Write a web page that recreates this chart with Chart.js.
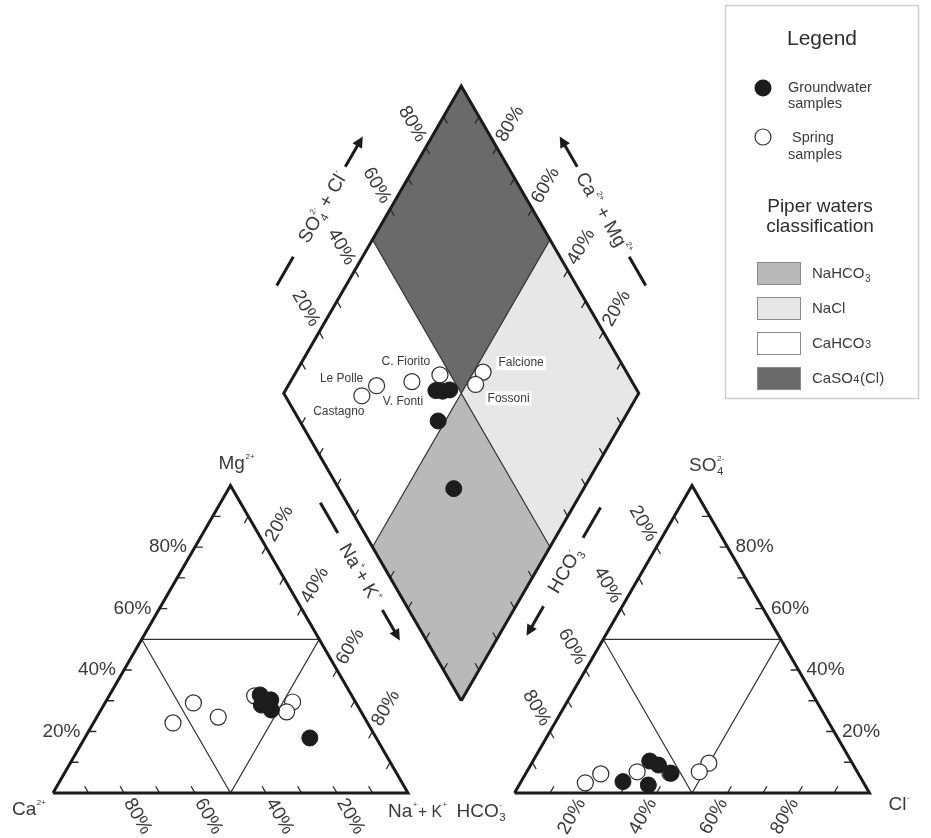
<!DOCTYPE html>
<html>
<head>
<meta charset="utf-8">
<title>Piper diagram</title>
<script src="https://cdn.jsdelivr.net/npm/chart.js@4.4.1/dist/chart.umd.min.js"></script>
<style>
  html, body { margin: 0; padding: 0; background: #ffffff; }
  canvas { display: block; }
</style>
</head>
<body>
<canvas id="piper" width="931" height="838"></canvas>
<script>
// ---- sample chemistry, % of meq/L ----
const springNames = ['Castagno', 'Le Polle', 'C. Fiorito', 'V. Fonti', 'Falcione', 'Fossoni'];
const springCa   = [54.8, 45.8, 41.1, 27.4, 17.7, 21.0];
const springMg   = [22.8, 29.3, 24.7, 31.6, 29.6, 26.4];
const springNaK  = [22.4, 24.9, 34.2, 41.0, 52.7, 52.6];
const springHCO3 = [78.4, 72.6, 62.0, 53.0, 40.4, 44.5];
const springSO4  = [3.3, 6.2, 6.9, 6.5, 9.7, 6.9];
const springCl   = [18.3, 21.2, 31.1, 40.5, 49.9, 48.6];

const gwCa   = [25.7, 23.5, 27.0, 25.0, 18.7];
const gwMg   = [31.9, 30.3, 28.6, 27.0, 17.9];
const gwNaK  = [42.4, 46.2, 44.4, 48.0, 63.4];
const gwHCO3 = [56.7, 52.7, 54.9, 61.0, 67.6];
const gwSO4  = [10.4, 6.4, 9.1, 2.6, 3.7];
const gwCl   = [32.9, 40.9, 36.0, 36.4, 28.7];

// ---- graduations ----
const tickSteps  = [10, 20, 30, 40, 60, 70, 80, 90];
const labelSteps = [20, 40, 60, 80];
const labelText  = ['20%', '40%', '60%', '80%'];

// ---- water-type fields of the diamond; corners as (Na+K %, HCO3 %) ----
const classNames  = ['NaHCO3', 'NaCl', 'CaHCO3', 'CaSO4(Cl)'];
const classNaK    = [[50, 50, 100, 100], [50, 50, 100, 100], [0, 0, 50, 50], [0, 0, 50, 50]];
const classHCO3   = [[50, 100, 100, 50], [0, 50, 50, 0], [50, 100, 100, 50], [0, 50, 50, 0]];
const classColors = ['#b9b9b9', '#e7e7e7', '#ffffff', '#6a6a6a'];

// ---- geometry (data units: triangle side = 100) ----
const H = Math.sqrt(3) / 2;
const GAP = 30;               // space between the two triangles
const DX = 100 + GAP / 2;     // x of the diamond's lower vertex
const TICK = 2.2;             // tick length
const UNIT = 3.55;            // pixels per data unit
const X_MIN = -53 / UNIT, X_MAX = (931 - 53) / UNIT;
const Y_MIN = -(838 - 793) / UNIT, Y_MAX = 793 / UNIT;

function cationPos(ca, mg, nak) {
  const s = ca + mg + nak;
  return { x: 100 * (nak + mg / 2) / s, y: 100 * mg * H / s };
}
function anionPos(hco3, so4, cl) {
  const s = hco3 + so4 + cl;
  return { x: 100 + GAP + 100 * (cl + so4 / 2) / s, y: 100 * so4 * H / s };
}
function diamondPos(nak, hco3) {
  const c = 1 - nak / 100, s = 1 - hco3 / 100;
  return { x: DX + 50 * (s - c), y: GAP * H + 100 * H * (s + c) };
}
const BREAK = () => ({ x: null, y: null });
function closed(pts) { return pts.concat([pts[0]]); }
function ticks(origins, dir) {
  const out = [];
  origins.forEach(o => out.push(o, { x: o.x + dir.x * TICK, y: o.y + dir.y * TICK }, BREAK()));
  return out;
}

// sample positions
const springCat = springCa.map((v, i) => cationPos(v, springMg[i], springNaK[i]));
const springAn  = springHCO3.map((v, i) => anionPos(v, springSO4[i], springCl[i]));
const springDia = springNaK.map((v, i) => {
  const na = 100 * v / (springCa[i] + springMg[i] + v);
  const hc = 100 * springHCO3[i] / (springHCO3[i] + springSO4[i] + springCl[i]);
  return diamondPos(na, hc);
});
const gwCat = gwCa.map((v, i) => cationPos(v, gwMg[i], gwNaK[i]));
const gwAn  = gwHCO3.map((v, i) => anionPos(v, gwSO4[i], gwCl[i]));
const gwDia = gwNaK.map((v, i) => {
  const na = 100 * v / (gwCa[i] + gwMg[i] + v);
  const hc = 100 * gwHCO3[i] / (gwHCO3[i] + gwSO4[i] + gwCl[i]);
  return diamondPos(na, hc);
});

// frame outlines
const leftTri  = closed([cationPos(100, 0, 0), cationPos(0, 0, 100), cationPos(0, 100, 0)]);
const rightTri = closed([anionPos(100, 0, 0), anionPos(0, 0, 100), anionPos(0, 100, 0)]);
const diamond  = closed([diamondPos(100, 100), diamondPos(0, 100), diamondPos(0, 0), diamondPos(100, 0)]);
const leftInner  = closed([cationPos(50, 50, 0), cationPos(0, 50, 50), cationPos(50, 0, 50)]);
const rightInner = closed([anionPos(50, 50, 0), anionPos(0, 50, 50), anionPos(50, 0, 50)]);
const diamondCross = [diamondPos(0, 50), diamondPos(100, 50), BREAK(), diamondPos(50, 0), diamondPos(50, 100)];

// tick marks on every edge
const tickData = [].concat(
  ticks(tickSteps.map(m => cationPos(100 - m, m, 0)), { x: 1, y: 0 }),
  ticks(tickSteps.map(k => cationPos(k, 0, 100 - k)), { x: -0.5, y: H }),
  ticks(tickSteps.map(n => cationPos(0, 100 - n, n)), { x: -0.5, y: -H }),
  ticks(tickSteps.map(q => anionPos(0, q, 100 - q)), { x: -1, y: 0 }),
  ticks(tickSteps.map(k => anionPos(100 - k, 0, k)), { x: 0.5, y: H }),
  ticks(tickSteps.map(h => anionPos(h, 100 - h, 0)), { x: 0.5, y: -H }),
  ticks(tickSteps.map(n => diamondPos(n, 100)), { x: 0.5, y: H }),
  ticks(tickSteps.map(h => diamondPos(100, h)), { x: -0.5, y: H }),
  ticks(tickSteps.map(h => diamondPos(0, h)), { x: 0.5, y: -H }),
  ticks(tickSteps.map(n => diamondPos(n, 0)), { x: -0.5, y: -H })
);

const INK = '#1b1b1b';
const TEXT = '#3a3a3a';
const FONT = '"Liberation Sans", Arial, Helvetica, sans-serif';
const font = sz => sz + 'px ' + FONT;

const lineSet = (data, width, order, color) => ({
  data, showLine: true, fill: false, borderColor: color || INK, borderWidth: width,
  pointRadius: 0, pointHoverRadius: 0, tension: 0, spanGaps: false, order,
  borderJoinStyle: 'miter', borderCapStyle: 'butt'
});

const datasets = [];
classNames.forEach((name, i) => {
  const pts = closed(classNaK[i].map((n, j) => diamondPos(n, classHCO3[i][j])));
  datasets.push({
    label: name, data: pts, showLine: true, fill: 'shape',
    backgroundColor: classColors[i], borderColor: 'rgba(0,0,0,0)', borderWidth: 0,
    pointRadius: 0, pointHoverRadius: 0, tension: 0, order: 20
  });
});
datasets.push(lineSet(leftInner, 1.2, 12, '#333'));
datasets.push(lineSet(rightInner, 1.2, 12, '#333'));
datasets.push(lineSet(diamondCross, 1.2, 12, '#333'));
datasets.push(lineSet(tickData, 1.3, 11, '#2a2a2a'));
datasets.push(lineSet(leftTri, 3, 10));
datasets.push(lineSet(rightTri, 3, 10));
datasets.push(lineSet(diamond, 3, 10));

const springStyle = { pointRadius: 8, pointHoverRadius: 8, pointBackgroundColor: '#ffffff',
  pointBorderColor: '#2e2e2e', pointBorderWidth: 1.2, showLine: false, order: 3 };
const gwStyle = { pointRadius: 8, pointHoverRadius: 8, pointBackgroundColor: '#1c1c1c',
  pointBorderColor: '#1c1c1c', pointBorderWidth: 1, showLine: false, order: 1 };
datasets.push(Object.assign({ label: 'Spring samples (cations)', data: springCat }, springStyle));
datasets.push(Object.assign({ label: 'Spring samples (anions)', data: springAn }, springStyle));
datasets.push(Object.assign({ label: 'Spring samples', data: springDia }, springStyle));
datasets.push(Object.assign({ label: 'Groundwater samples (cations)', data: gwCat }, gwStyle));
datasets.push(Object.assign({ label: 'Groundwater samples (anions)', data: gwAn }, gwStyle));
datasets.push(Object.assign({ label: 'Groundwater samples', data: gwDia }, gwStyle));

// ---- text helpers ----
function drawRich(ctx, parts, x, y, size, align) {
  const subK = 0.6, supK = 0.42;
  const segs = parts.map(p => {
    if (p.t !== undefined) { ctx.font = font(size * (p.k || 1)); return { p, w: ctx.measureText(p.t).width }; }
    let w = 0;
    if (p.sub) { ctx.font = font(size * subK); w = Math.max(w, ctx.measureText(p.sub).width); }
    if (p.sup) { ctx.font = font(size * supK); w = Math.max(w, ctx.measureText(p.sup).width); }
    return { p, w: w + size * 0.06 };
  });
  const total = segs.reduce((a, s) => a + s.w, 0);
  let cx = align === 'center' ? x - total / 2 : align === 'right' ? x - total : x;
  ctx.textAlign = 'left';
  ctx.textBaseline = 'alphabetic';
  for (const s of segs) {
    const p = s.p;
    if (p.t !== undefined) { ctx.font = font(size * (p.k || 1)); ctx.fillText(p.t, cx, y); }
    else {
      if (p.sub) { ctx.font = font(size * subK); ctx.fillText(p.sub, cx + size * 0.03, y + size * 0.22); }
      if (p.sup) { ctx.font = font(size * supK); ctx.fillText(p.sup, cx + size * 0.03, y - size * 0.52); }
    }
    cx += s.w;
  }
}

const vertexLabels = [
  { at: () => cationPos(0, 100, 0), dx: -12, dy: -17, parts: [{ t: 'Mg' }, { sup: '2+' }] },
  { at: () => cationPos(100, 0, 0), dx: -41, dy: 22, parts: [{ t: 'Ca' }, { sup: '2+' }] },
  { at: () => cationPos(0, 0, 100), dx: -20, dy: 24, parts: [{ t: 'Na' }, { sup: '+' }, { t: '+ K', k: 0.82 }, { sup: '+' }] },
  { at: () => anionPos(100, 0, 0), dx: -58, dy: 24, parts: [{ t: 'HCO' }, { sub: '3', sup: '-' }] },
  { at: () => anionPos(0, 0, 100), dx: 19, dy: 17, parts: [{ t: 'Cl' }, { sup: '-' }] },
  { at: () => anionPos(0, 100, 0), dx: -3, dy: -15, parts: [{ t: 'SO' }, { sub: '4', sup: '2-' }] }
];

// graduation labels: anchor, outward direction (data units), rotation, alignment
const scaleLabels = [
  { at: v => cationPos(100 - v, v, 0), out: { x: -1, y: 0 }, rot: 0, align: 'right' },
  { at: v => cationPos(v, 0, 100 - v), out: { x: 0.5, y: -H }, rot: 60, align: 'left' },
  { at: v => cationPos(0, 100 - v, v), out: { x: 0.5, y: H }, rot: -60, align: 'left' },
  { at: v => anionPos(0, v, 100 - v), out: { x: 1, y: 0 }, rot: 0, align: 'left' },
  { at: v => anionPos(100 - v, 0, v), out: { x: -0.5, y: -H }, rot: -60, align: 'right' },
  { at: v => anionPos(v, 100 - v, 0), out: { x: -0.5, y: H }, rot: 60, align: 'right' },
  { at: v => diamondPos(0, 100 - v), out: { x: -0.5, y: H }, rot: 60, align: 'right' },
  { at: v => diamondPos(100 - v, 0), out: { x: 0.5, y: H }, rot: -60, align: 'left' }
];

// diamond axis titles: edge (from, to), side, offset, dash / text / arrow positions along the edge
const axisTitles = [
  { from: () => diamondPos(0, 100), to: () => diamondPos(0, 0), sign: 1, p: 60,
    dash: [90, 123], text: 181, arrow: [227, 262], rot: -60,
    parts: [{ t: 'SO' }, { sub: '4', sup: '2-' }, { t: ' + Cl' }, { sup: '-' }] },
  { from: () => diamondPos(100, 0), to: () => diamondPos(0, 0), sign: -1, p: 60,
    dash: [90, 123], text: 173, arrow: [227, 262], rot: 60,
    parts: [{ t: 'Ca' }, { sup: '2+' }, { t: ' + Mg' }, { sup: '2+' }] },
  { from: () => diamondPos(0, 100), to: () => diamondPos(100, 100), sign: -1, p: 23,
    dash: [113, 148], text: 194, arrow: [237, 272], rot: 60,
    parts: [{ t: 'Na' }, { sup: '+' }, { t: '+ K' }, { sup: '+' }] },
  { from: () => diamondPos(100, 0), to: () => diamondPos(100, 100), sign: 1, p: 24,
    dash: [118, 153], text: 190, arrow: [232, 266], rot: -60,
    parts: [{ t: 'HCO' }, { sub: '3', sup: '-' }] }
];

// name tags beside the spring points in the diamond (pixel offsets)
const springTagDX = [-23, -35, -6, -37, 38, 33];
const springTagDY = [16, -7, -20, 27, -9, 14];

const piperDecor = {
  id: 'piperDecor',
  afterDatasetsDraw(chart) {
    const ctx = chart.ctx;
    const sx = chart.scales.x, sy = chart.scales.y;
    const pix = p => ({ x: sx.getPixelForValue(p.x), y: sy.getPixelForValue(p.y) });
    ctx.save();
    ctx.fillStyle = TEXT;

    // graduation labels
    ctx.font = font(19);
    scaleLabels.forEach(ax => {
      labelSteps.forEach((v, i) => {
        const a = pix(ax.at(v));
        const len = Math.hypot(ax.out.x, ax.out.y);
        const ox = ax.out.x / len, oy = -ax.out.y / len;
        ctx.save();
        ctx.translate(a.x + ox * 8, a.y + oy * 8);
        ctx.rotate(ax.rot * Math.PI / 180);
        ctx.textAlign = ax.align;
        ctx.textBaseline = 'middle';
        ctx.fillText(labelText[i], 0, 0);
        ctx.restore();
      });
    });

    // vertex labels
    vertexLabels.forEach(v => {
      const a = pix(v.at());
      drawRich(ctx, v.parts, a.x + v.dx, a.y + v.dy, 19, 'left');
    });

    // diamond axis titles with dashes and arrows
    axisTitles.forEach(t => {
      const S = pix(t.from()), E = pix(t.to());
      const L = Math.hypot(E.x - S.x, E.y - S.y);
      const d = { x: (E.x - S.x) / L, y: (E.y - S.y) / L };
      const n = t.sign > 0 ? { x: d.y, y: -d.x } : { x: -d.y, y: d.x };
      const at = a => ({ x: S.x + d.x * a + n.x * t.p, y: S.y + d.y * a + n.y * t.p });
      ctx.strokeStyle = INK;
      ctx.fillStyle = INK;
      ctx.lineWidth = 3;
      ctx.lineCap = 'butt';
      const d0 = at(t.dash[0]), d1 = at(t.dash[1]);
      ctx.beginPath(); ctx.moveTo(d0.x, d0.y); ctx.lineTo(d1.x, d1.y); ctx.stroke();
      const a0 = at(t.arrow[0]), a1 = at(t.arrow[1]);
      const head = 11, hw = 5.5;
      const base = { x: a1.x - d.x * head, y: a1.y - d.y * head };
      ctx.beginPath(); ctx.moveTo(a0.x, a0.y); ctx.lineTo(base.x + d.x * 2, base.y + d.y * 2); ctx.stroke();
      ctx.beginPath();
      ctx.moveTo(a1.x, a1.y);
      ctx.lineTo(base.x + n.x * hw, base.y + n.y * hw);
      ctx.lineTo(base.x - n.x * hw, base.y - n.y * hw);
      ctx.closePath(); ctx.fill();
      const c = at(t.text);
      ctx.fillStyle = TEXT;
      ctx.save();
      ctx.translate(c.x, c.y);
      ctx.rotate(t.rot * Math.PI / 180);
      drawRich(ctx, t.parts, 0, 19 * 0.35, 19, 'center');
      ctx.restore();
    });

    // spring names in the diamond
    ctx.font = font(12);
    ctx.textAlign = 'center';
    ctx.textBaseline = 'middle';
    springNames.forEach((name, i) => {
      const p = pix(springDia[i]);
      const x = p.x + springTagDX[i], y = p.y + springTagDY[i];
      const w = ctx.measureText(name).width;
      ctx.fillStyle = '#ffffff';
      ctx.fillRect(x - w / 2 - 2, y - 7, w + 4, 14);
      ctx.fillStyle = TEXT;
      ctx.fillText(name, x, y);
    });

    // legend panel
    ctx.strokeStyle = '#cfcfcf';
    ctx.lineWidth = 1.5;
    ctx.strokeRect(725.5, 5.5, 193, 393);
    ctx.fillStyle = '#2e2e2e';
    ctx.textAlign = 'center';
    ctx.textBaseline = 'alphabetic';
    ctx.font = font(21);
    ctx.fillText('Legend', 822, 45);
    ctx.fillStyle = '#1c1c1c';
    ctx.beginPath(); ctx.arc(763, 88, 8.5, 0, Math.PI * 2); ctx.fill();
    ctx.fillStyle = '#ffffff';
    ctx.strokeStyle = '#2e2e2e';
    ctx.lineWidth = 1.2;
    ctx.beginPath(); ctx.arc(763, 137, 8, 0, Math.PI * 2); ctx.fill(); ctx.stroke();
    ctx.fillStyle = TEXT;
    ctx.textAlign = 'left';
    ctx.font = font(14.5);
    ctx.fillText('Groundwater', 788, 92);
    ctx.fillText('samples', 788, 108);
    ctx.fillText('Spring', 792, 142);
    ctx.fillText('samples', 788, 159);
    ctx.fillStyle = '#2e2e2e';
    ctx.textAlign = 'center';
    ctx.font = font(19);
    ctx.fillText('Piper waters', 820, 212);
    ctx.fillText('classification', 820, 232);

    const swTop = [262, 297, 332, 367];
    const swParts = [
      [{ t: 'NaHCO' }, { sub: '3' }],
      [{ t: 'NaCl' }],
      [{ t: 'CaHCO' }, { small: '3' }],
      [{ t: 'CaSO' }, { small: '4' }, { t: '(Cl)' }]
    ];
    classNames.forEach((name, i) => {
      ctx.fillStyle = classColors[i];
      ctx.fillRect(757, swTop[i], 43, 22);
      ctx.strokeStyle = '#8a8a8a';
      ctx.lineWidth = 1;
      ctx.strokeRect(757.5, swTop[i] + 0.5, 43, 22);
      ctx.fillStyle = TEXT;
      let x = 812;
      const y = swTop[i] + 16;
      ctx.textAlign = 'left';
      swParts[i].forEach(p => {
        if (p.t) { ctx.font = font(15); ctx.fillText(p.t, x, y); x += ctx.measureText(p.t).width; }
        else if (p.sub) { ctx.font = font(10); ctx.fillText(p.sub, x + 0.5, y + 4); x += ctx.measureText(p.sub).width + 1; }
        else if (p.small) { ctx.font = font(11); ctx.fillText(p.small, x + 0.5, y); x += ctx.measureText(p.small).width + 1; }
      });
    });
    ctx.restore();
  }
};

new Chart(document.getElementById('piper'), {
  type: 'scatter',
  data: { datasets },
  options: {
    responsive: false,
    animation: false,
    devicePixelRatio: 1,
    events: [],
    layout: { padding: 0, autoPadding: false },
    plugins: { legend: { display: false }, tooltip: { enabled: false } },
    scales: {
      x: { type: 'linear', display: false, min: X_MIN, max: X_MAX, bounds: 'data' },
      y: { type: 'linear', display: false, min: Y_MIN, max: Y_MAX, bounds: 'data' }
    }
  },
  plugins: [piperDecor]
});
</script>
</body>
</html>
